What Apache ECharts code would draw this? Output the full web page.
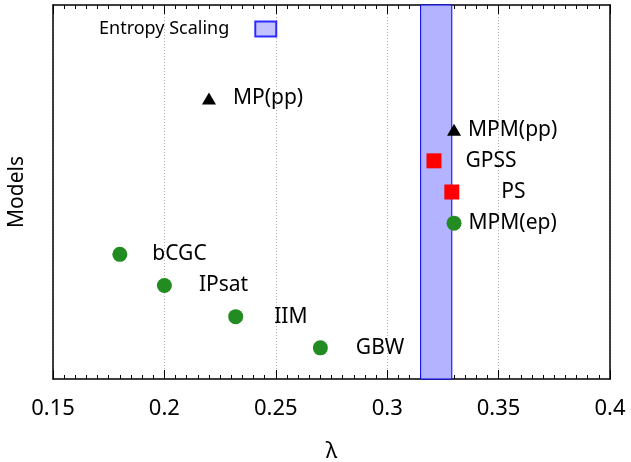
<!DOCTYPE html>
<html><head><meta charset="utf-8">
<script src="https://cdn.jsdelivr.net/npm/echarts@6/dist/echarts.min.js"></script>
<style>html,body{margin:0;padding:0;background:#fff}#c{width:631px;height:462px}</style>
</head><body><div id="c"></div>
<script>
// ---- data ----
const models = ['MP(pp)', 'MPM(pp)', 'GPSS', 'PS', 'MPM(ep)', 'bCGC', 'IPsat', 'IIM', 'GBW'];
const lambdaValues = [0.22, 0.33, 0.321, 0.329, 0.33, 0.18, 0.2, 0.232, 0.27];
const modelRows = [9, 8, 7, 6, 5, 4, 3, 2, 1];
const modelKinds = ['pp', 'pp', 'ps', 'ps', 'ep', 'ep', 'ep', 'ep', 'ep'];
const entropyBand = [0.315, 0.329];
const xTickLabels = ['0.15', '0.2', '0.25', '0.3', '0.35', '0.4'];

// ---- styles ----
const FONT = 'Noto Sans';
const kindStyle = {
  pp: { symbol: 'triangle', color: '#000000', size: [14, 12] },
  ps: { symbol: 'rect', color: '#ff0000', size: 15 },
  ep: { symbol: 'circle', color: '#228b22', size: 15 }
};
const labelGap = { 'MP(pp)': 17, 'MPM(pp)': 7, 'GPSS': 24, 'PS': 42, 'MPM(ep)': 7, 'bCGC': 25, 'IPsat': 27, 'IIM': 31, 'GBW': 28 };

function seriesFor(kind) {
  const st = kindStyle[kind];
  const data = [];
  models.forEach((m, i) => {
    if (modelKinds[i] !== kind) return;
    data.push({ value: [lambdaValues[i], modelRows[i]], name: m, label: { distance: labelGap[m] } });
  });
  return {
    type: 'scatter', name: kind, data, symbol: st.symbol, symbolSize: st.size,
    itemStyle: { color: st.color, opacity: 1 }, z: 5,
    emphasis: { disabled: true },
    label: { show: true, position: 'right', formatter: p => p.name, color: '#000', fontFamily: FONT, fontSize: 21 }
  };
}

const xTickMap = {};
xTickLabels.forEach(t => { xTickMap[parseFloat(t).toFixed(2)] = t; });

const chart = echarts.init(document.getElementById('c'), null, { renderer: 'canvas' });
chart.setOption({
  animation: false,
  backgroundColor: '#fff',
  grid: { left: 53, right: 21, top: 5, bottom: 83, containLabel: false, outerBoundsMode: 'none' },
  legend: {
    data: [{ name: 'Entropy Scaling', icon: 'rect' }],
    left: 94, top: 15, align: 'right', itemWidth: 21, itemHeight: 15, itemGap: 10,
    textStyle: { fontFamily: FONT, fontSize: 18, color: '#000', padding: [0, 21, 0, 0] },
    selectedMode: false
  },
  xAxis: [{
    type: 'value', min: 0.15, max: 0.4, interval: 0.05,
    name: 'λ', nameLocation: 'middle', nameGap: 62,
    nameTextStyle: { fontFamily: FONT, fontSize: 22, color: '#000' },
    axisLine: { show: true, onZero: false, lineStyle: { color: '#000', width: 1.5 } },
    axisTick: { show: true, inside: true, length: 9, lineStyle: { color: '#000' } },
    minorTick: { show: true, splitNumber: 10, length: 4, lineStyle: { color: '#000' } },
    axisLabel: { fontFamily: FONT, fontSize: 22, color: '#000', margin: 19,
      formatter: v => xTickMap[v.toFixed(2)] || '' },
    splitLine: { show: true, lineStyle: { color: '#b0b0b0', type: [1, 2], width: 1 } }
  }, {
    type: 'value', position: 'top', min: 0.15, max: 0.4, interval: 0.05,
    axisLine: { show: true, onZero: false, lineStyle: { color: '#000', width: 1.5 } },
    axisTick: { show: true, inside: true, length: 9, lineStyle: { color: '#000' } },
    minorTick: { show: true, splitNumber: 10, length: 4, lineStyle: { color: '#000' } },
    axisLabel: { show: false }, splitLine: { show: false }
  }],
  yAxis: [{
    type: 'value', min: 0, max: 12, interval: 1,
    name: 'Models', nameLocation: 'middle', nameGap: 25, nameRotate: 90,
    nameTextStyle: { fontFamily: FONT, fontSize: 21, color: '#000' },
    axisLine: { show: true, onZero: false, lineStyle: { color: '#000', width: 1.5 } },
    axisTick: { show: false }, axisLabel: { show: false }, splitLine: { show: false }
  }, {
    type: 'value', position: 'right', min: 0, max: 12, interval: 1,
    axisLine: { show: true, onZero: false, lineStyle: { color: '#000', width: 1.5 } },
    axisTick: { show: false }, axisLabel: { show: false }, splitLine: { show: false }
  }],
  series: [
    {
      type: 'scatter', name: 'Entropy Scaling', data: [], z: 1,
      itemStyle: { color: '#b3b3ff', borderColor: '#0000ff', borderWidth: 1 },
      markArea: {
        silent: true,
        itemStyle: { color: '#b3b3ff', borderColor: '#0000ff', borderWidth: 1, opacity: 1 },
        data: [[{ xAxis: entropyBand[0], yAxis: 0 }, { xAxis: entropyBand[1], yAxis: 12 }]]
      }
    },
    seriesFor('pp'), seriesFor('ps'), seriesFor('ep')
  ]
});
</script></body></html>
